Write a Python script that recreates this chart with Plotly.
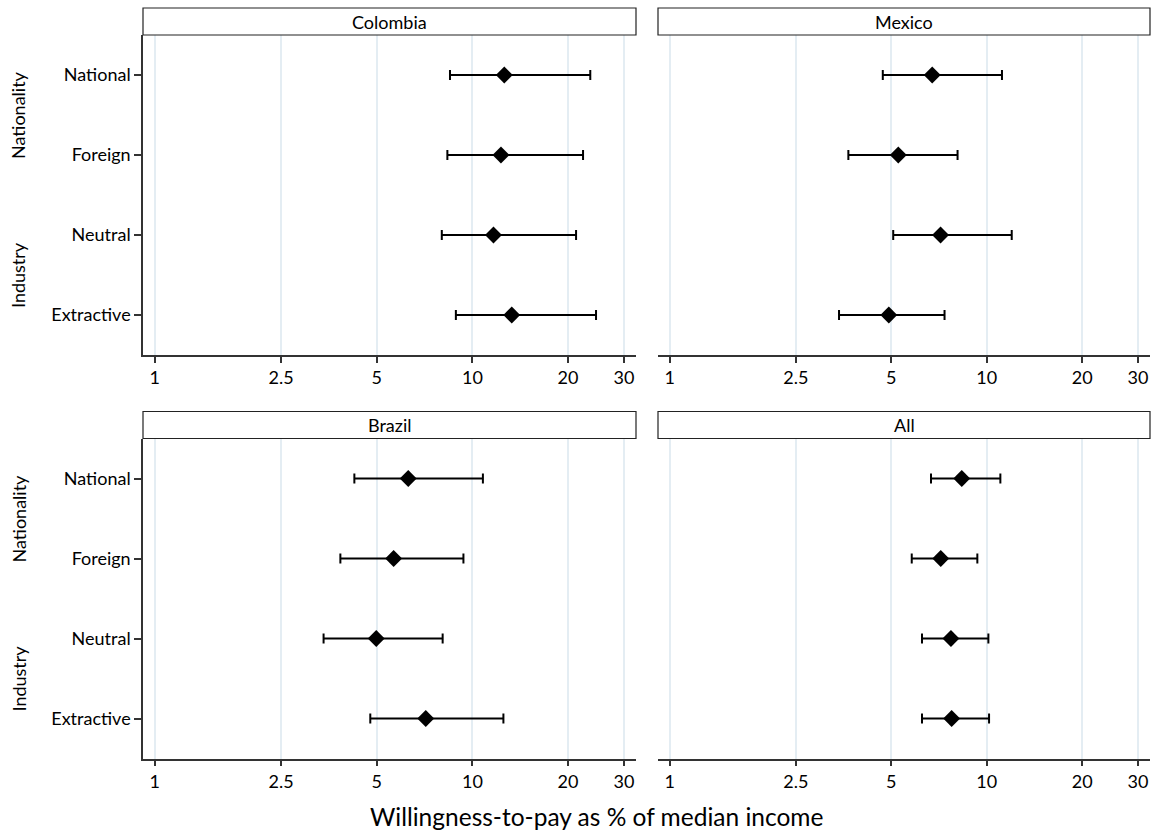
import plotly.graph_objects as go

# Categories shown on the y axis (top to bottom) and their grouping labels
categories = ["National", "Foreign", "Neutral", "Extractive"]
group_labels = ["Nationality", "Industry"]
group_members = [["National", "Foreign"], ["Neutral", "Extractive"]]

# Panel titles
countries = ["Colombia", "Mexico", "Brazil", "All"]

# Point estimates and confidence bounds (WTP as % of median income)
colombia_est = [12.6, 12.3, 11.65, 13.3]
colombia_lo = [8.5, 8.34, 8.01, 8.87]
colombia_hi = [23.5, 22.3, 21.2, 24.5]

mexico_est = [6.73, 5.26, 7.15, 4.91]
mexico_lo = [4.70, 3.66, 5.07, 3.42]
mexico_hi = [11.17, 8.09, 11.99, 7.36]

brazil_est = [6.28, 5.65, 4.98, 7.13]
brazil_lo = [4.25, 3.84, 3.40, 4.77]
brazil_hi = [10.79, 9.37, 8.06, 12.52]

all_est = [8.34, 7.16, 7.71, 7.75]
all_lo = [6.67, 5.80, 6.25, 6.25]
all_hi = [11.04, 9.34, 10.12, 10.17]

x_tickvals = [1, 2.5, 5, 10, 20, 30]
x_ticktext = ["1", "2.5", "5", "10", "20", "30"]

x_title = "Willingness-to-pay as % of median income"

series = [
    (colombia_est, colombia_lo, colombia_hi),
    (mexico_est, mexico_lo, mexico_hi),
    (brazil_est, brazil_lo, brazil_hi),
    (all_est, all_lo, all_hi),
]

W, H = 1156, 837
FONT = "Lato, 'Open Sans', sans-serif"
GRID = "#e4edf3"
AXIS = "#333333"


def px_x(v):
    return v / W


def px_y(v):
    return 1 - v / H


# Panel geometry in pixels: (left, right, top, bottom) of the plotting area
panels = [
    (143, 636, 35, 355),
    (658, 1150, 35, 355),
    (143, 636, 438.5, 758.5),
    (658, 1150, 438.5, 758.5),
]
strip_h = 27

fig = go.Figure()
shapes = []
annotations = []
layout_axes = {}

for i, (name, (est, lo, hi), (l, r, t, b)) in enumerate(zip(countries, series, panels)):
    n = i + 1
    xa = "x" if n == 1 else f"x{n}"
    ya = "y" if n == 1 else f"y{n}"
    fig.add_trace(go.Scatter(
        x=est,
        y=categories,
        mode="markers",
        marker=dict(symbol="diamond", size=13, color="black", line=dict(width=0)),
        error_x=dict(
            type="data",
            symmetric=False,
            array=[h - e for h, e in zip(hi, est)],
            arrayminus=[e - lo_ for e, lo_ in zip(est, lo)],
            thickness=2,
            width=5,
            color="black",
        ),
        xaxis=xa,
        yaxis=ya,
        showlegend=False,
        hoverinfo="skip",
    ))

    left_col = n in (1, 3)
    layout_axes["xaxis" if n == 1 else f"xaxis{n}"] = dict(
        domain=[px_x(l), px_x(r)],
        anchor=ya,
        type="log",
        range=[-0.037, 1.515],
        tickmode="array",
        tickvals=x_tickvals,
        ticktext=x_ticktext,
        ticks="outside",
        ticklen=6,
        tickwidth=1.5,
        tickcolor=AXIS,
        tickfont=dict(family=FONT, size=18, color="black"),
        showgrid=True,
        gridcolor=GRID,
        gridwidth=1.5,
        showline=True,
        linecolor=AXIS,
        linewidth=1.5,
        zeroline=False,
        fixedrange=True,
    )
    layout_axes["yaxis" if n == 1 else f"yaxis{n}"] = dict(
        domain=[px_y(b), px_y(t)],
        anchor=xa,
        type="category",
        categoryorder="array",
        categoryarray=categories,
        range=[3.5, -0.5],
        showgrid=False,
        zeroline=False,
        showline=left_col,
        linecolor=AXIS,
        linewidth=1.5,
        ticks="outside" if left_col else "",
        ticklen=7,
        tickwidth=1.5,
        tickcolor=AXIS,
        showticklabels=left_col,
        tickfont=dict(family=FONT, size=18, color="black"),
        fixedrange=True,
    )

    # Panel header strip
    shapes.append(dict(
        type="rect", xref="paper", yref="paper",
        x0=px_x(l), x1=px_x(r), y0=px_y(t), y1=px_y(t - strip_h),
        line=dict(color="#222222", width=1.2), fillcolor="white", layer="above",
    ))
    annotations.append(dict(
        text=name, xref="paper", yref="paper",
        x=px_x((l + r) / 2), y=px_y(t - strip_h / 2),
        xanchor="center", yanchor="middle", showarrow=False,
        font=dict(family=FONT, size=18, color="black"),
    ))

    # Group labels beside the category ticks of the left column
    if left_col:
        for label, members in zip(group_labels, group_members):
            idx = [categories.index(m) for m in members]
            mid = sum(idx) / len(idx)
            yfrac = (mid + 0.5) / len(categories)
            annotations.append(dict(
                text=label, xref="paper", yref="paper",
                x=px_x(18), y=px_y(t + yfrac * (b - t)),
                xanchor="center", yanchor="middle", textangle=-90,
                showarrow=False,
                font=dict(family=FONT, size=18, color="black"),
            ))

annotations.append(dict(
    text=x_title, xref="paper", yref="paper",
    x=px_x(596), y=px_y(816), xanchor="center", yanchor="middle",
    showarrow=False, font=dict(family=FONT, size=24.5, color="black"),
))

fig.update_layout(
    width=W,
    height=H,
    margin=dict(l=0, r=0, t=0, b=0),
    paper_bgcolor="white",
    plot_bgcolor="white",
    shapes=shapes,
    annotations=annotations,
    **layout_axes,
)

fig.write_html("out.html", config={"displayModeBar": False})
